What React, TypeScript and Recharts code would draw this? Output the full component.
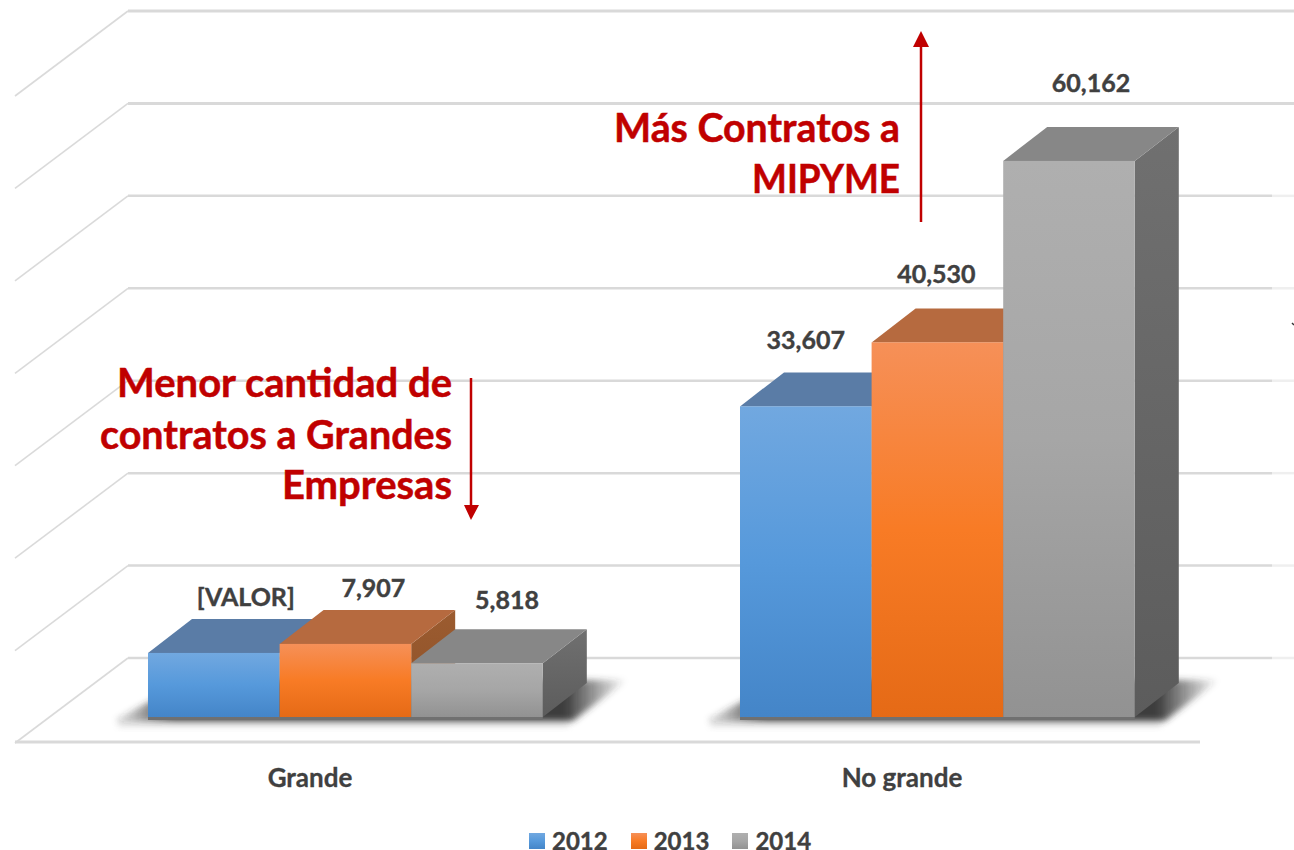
import { Bar, BarChart, CartesianGrid, LabelList, Legend, XAxis, YAxis } from "recharts";

const categories = ["Grande", "No grande"];
const years = ["2012", "2013", "2014"];
const values2012 = [6930, 33607];
const values2013 = [7907, 40530];
const values2014 = [5818, 60162];
const yTicks = [0, 10000, 20000, 30000, 40000, 50000, 60000, 70000];
const labels2012 = ["[VALOR]", "33,607"];
const labels2013 = ["7,907", "40,530"];
const labels2014 = ["5,818", "60,162"];

const tableData = categories.map((category, i) => ({
  category,
  "2012": values2012[i],
  "2013": values2013[i],
  "2014": values2014[i],
}));

const palette = [
  { id: "blue", stops: ["#71A8E0", "#5699DB", "#4485C8"], top: "#5A7CA6", side: ["#3F6A9A", "#345A85"] },
  { id: "orange", stops: ["#F69058", "#F87B25", "#E56A16"], top: "#B66A3F", side: ["#9C5C30", "#8C5028"] },
  { id: "gray", stops: ["#AFAFAF", "#A6A6A6", "#929292"], top: "#878787", side: ["#707070", "#5C5C5C"] },
];

// hand-placed label shifts from the bar's top centre, the source chart has them uneven
const labelShift = [
  [{ dx: 32, up: 47 }, { dx: 0, up: 57 }],
  [{ dx: 28, up: 47 }, { dx: -1, up: 59 }],
  [{ dx: 30, up: 54 }, { dx: 22, up: 69 }],
];
const seriesLabels = [labels2012, labels2013, labels2014];

const BASE_Y = 717;
const BACK_OFFSET = 59;
const DEPTH_X = 44;
const DEPTH_Y = 34;
const TEXT = "#404040";
const RED = "#C00000";

function GridRow(props: any) {
  const y = props.y1 - BACK_OFFSET;
  const isFloor = Math.abs(props.y1 - BASE_Y) < 1;
  const longLine = y < 150;
  return (
    <g key={props.key ?? y}>
      <path d={`M15 ${y + 85}L128 ${y}`} stroke="#DADADA" strokeWidth={1.6} fill="none" />
      <line x1={128} x2={longLine ? 1294 : 1272} y1={y} y2={y} stroke="#D9D9D9" strokeWidth={longLine ? 3 : 2.5} />
      {!longLine && <line x1={1272} x2={1294} y1={y} y2={y} stroke="#EFEFEF" strokeWidth={2.5} />}
      {isFloor && <line x1={15} x2={1200} y1={y + 84} y2={y + 84} stroke="#D9D9D9" strokeWidth={3} />}
    </g>
  );
}

function makeShape(seriesIndex: number) {
  const colors = palette[seriesIndex];
  return function Bar3D(props: any) {
    const { x, y, width, height } = props;
    const r = x + width;
    const bottom = y + height;
    return (
      <g>
        {seriesIndex === 0 && (
          <g>
            <rect x={x - 30} y={bottom + 1} width={3 * width + 56} height={9} fill="#AAA" opacity={0.3} filter="url(#softEdge)" />
            <polygon
              points={`${x - 36},${bottom + 4} ${x + DEPTH_X},${bottom - 37} ${x + 3 * width + 84},${bottom - 37} ${x + 3 * width + 30},${bottom + 4}`}
              fill="url(#floorShadow)"
              filter="url(#softEdge)"
            />
            <rect x={x} y={bottom} width={3 * width} height={3} fill="#707070" />
          </g>
        )}
        <polygon
          points={`${r},${y} ${r + DEPTH_X},${y - DEPTH_Y} ${r + DEPTH_X},${bottom - DEPTH_Y} ${r},${bottom}`}
          fill={`url(#side-${colors.id})`}
        />
        <polygon
          points={`${x},${y} ${x + DEPTH_X},${y - DEPTH_Y} ${r + DEPTH_X},${y - DEPTH_Y} ${r},${y}`}
          fill={colors.top}
        />
        <rect x={x} y={y} width={width} height={height} fill={`url(#front-${colors.id})`} />
      </g>
    );
  };
}

function makeLabel(seriesIndex: number) {
  return function BarLabel(props: any) {
    const { x, y, width, index } = props;
    const shift = labelShift[seriesIndex][index];
    return (
      <text
        x={x + width / 2 + shift.dx}
        y={y - shift.up}
        textAnchor="middle"
        fontSize={25}
        fontWeight={700}
        fill={TEXT}
        stroke={TEXT}
        strokeWidth={0.4}
      >
        {seriesLabels[seriesIndex][index]}
      </text>
    );
  };
}

function CategoryTick(props: any) {
  return (
    <text x={props.x - 35} y={BASE_Y + 70} textAnchor="middle" fontSize={26} fontWeight={700} fill={TEXT} stroke={TEXT} strokeWidth={0.3}>
      {props.payload.value}
    </text>
  );
}

function LegendRow(props: any) {
  return (
    <div style={{ display: "flex", alignItems: "center", gap: 23 }}>
      {(props.payload ?? []).map((item: any) => {
        const colors = palette[years.indexOf(String(item.value))];
        return (
          <span key={item.value} style={{ display: "flex", alignItems: "center", gap: 7, color: TEXT, fontSize: 24, fontWeight: 700, lineHeight: "18px", WebkitTextStroke: "0.4px #404040" }}>
            <span style={{ width: 16, height: 16, background: `linear-gradient(${colors.stops.join(",")})` }} />
            {item.value}
          </span>
        );
      })}
    </div>
  );
}

export default function App() {
  return (
    <div style={{ width: 1294, height: 850, fontFamily: "Lato, Carlito, sans-serif", background: "#fff", position: "relative" }}>
      <style>{"body{margin:0}"}</style>
      <BarChart
        width={1294}
        height={850}
        data={tableData}
        margin={{ top: 70, right: 61, bottom: 63, left: 49 }}
        barSize={131.6}
        barGap={0}
      >
        <defs>
          {palette.map((c) => (
            <linearGradient key={c.id} id={`front-${c.id}`} x1="0" y1="0" x2="0" y2="1">
              <stop offset="0%" stopColor={c.stops[0]} />
              <stop offset="50%" stopColor={c.stops[1]} />
              <stop offset="100%" stopColor={c.stops[2]} />
            </linearGradient>
          ))}
          {palette.map((c) => (
            <linearGradient key={c.id} id={`side-${c.id}`} x1="0" y1="0" x2="0" y2="1">
              <stop offset="0%" stopColor={c.side[0]} />
              <stop offset="100%" stopColor={c.side[1]} />
            </linearGradient>
          ))}
          <linearGradient id="floorShadow" x1="0" y1="0" x2="1" y2="0">
            <stop offset="0%" stopColor="#333" stopOpacity={0} />
            <stop offset="12%" stopColor="#333" stopOpacity={0.95} />
            <stop offset="88%" stopColor="#333" stopOpacity={0.95} />
            <stop offset="100%" stopColor="#333" stopOpacity={0} />
          </linearGradient>
          <filter id="softEdge" x="-10%" y="-50%" width="120%" height="200%">
            <feGaussianBlur stdDeviation="3" />
          </filter>
        </defs>
        <CartesianGrid vertical={false} horizontal={GridRow} />
        <XAxis dataKey="category" axisLine={false} tickLine={false} height={40} tick={CategoryTick} />
        <YAxis hide domain={[0, 70000]} ticks={yTicks} width={0} />
        <Legend
          height={30}
          verticalAlign="bottom"
          content={LegendRow}
          wrapperStyle={{ position: "absolute", left: 529, top: 832, bottom: "auto", width: "auto" }}
        />
        {years.map((year, i) => (
          <Bar key={year} dataKey={year} name={year} fill={palette[i].stops[1]} shape={makeShape(i)} isAnimationActive={false}>
            <LabelList content={makeLabel(i)} />
          </Bar>
        ))}
        <g fontWeight={700} fontSize={40} fill={RED} stroke={RED} strokeWidth={0.5} textAnchor="end">
          <text x={900} y={142} textLength={286} lengthAdjust="spacingAndGlyphs">Más Contratos a</text>
          <text x={900} y={193} textLength={148} lengthAdjust="spacingAndGlyphs">MIPYME</text>
          <text x={452} y={397}>Menor cantidad de</text>
          <text x={452} y={449} textLength={352} lengthAdjust="spacingAndGlyphs">contratos a Grandes</text>
          <text x={452} y={499}>Empresas</text>
        </g>
        <line x1={921} x2={921} y1={222} y2={45} stroke={RED} strokeWidth={2.5} />
        <polygon points="921,31 913,47 929,47" fill={RED} />
        <line x1={471} x2={471} y1={378} y2={506} stroke={RED} strokeWidth={2.5} />
        <polygon points="471,520 464,505 479,505" fill={RED} />
        <line x1={1292} x2={1294} y1={323} y2={325} stroke="#333" strokeWidth={1.5} />
      </BarChart>
    </div>
  );
}
